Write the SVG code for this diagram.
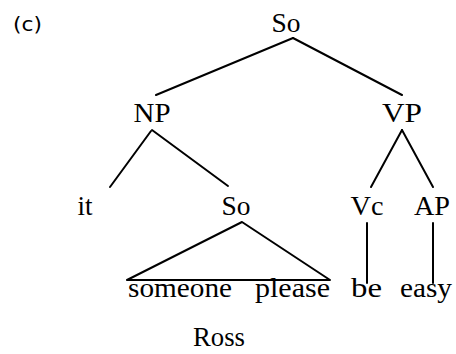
<svg xmlns="http://www.w3.org/2000/svg" width="456" height="354" viewBox="0 0 456 354">
<style>
  .t { font-family: "Liberation Serif", "Times New Roman", serif; font-size: 27px; fill: #000; }
  .m { text-anchor: middle; }
  .lbl { font-family: "DejaVu Sans", "Liberation Sans", sans-serif; font-size: 20px; fill: #000; }
  .e { stroke: #000; stroke-width: 2; fill: none; stroke-linecap: round; stroke-linejoin: round; }
</style>
<rect width="456" height="354" fill="#fff"/>
<text class="lbl" x="13" y="31" textLength="29" lengthAdjust="spacingAndGlyphs">(c)</text>
<g id="connectors">
  <line class="e" x1="293" y1="38" x2="156" y2="95"/>
  <line class="e" x1="293" y1="38" x2="402" y2="95"/>
  <line class="e" x1="151" y1="131" x2="110" y2="187"/>
  <line class="e" x1="152" y1="130" x2="228" y2="186"/>
  <line class="e" x1="402" y1="130" x2="371" y2="187"/>
  <line class="e" x1="402" y1="130" x2="433" y2="187"/>
  <line class="e" x1="367" y1="223" x2="367" y2="283"/>
  <line class="e" x1="433" y1="223" x2="433" y2="283"/>
</g>
<g id="node-So-root"><text class="t m" x="286" y="32" textLength="29" lengthAdjust="spacingAndGlyphs">So</text></g>
<g id="node-NP"><text class="t m" x="152" y="122" textLength="37" lengthAdjust="spacingAndGlyphs">NP</text></g>
<g id="node-VP"><text class="t m" x="402" y="122" textLength="40" lengthAdjust="spacingAndGlyphs">VP</text></g>
<g id="node-it"><text class="t m" x="85" y="215">it</text></g>
<g id="node-So-emb">
  <text class="t m" x="236" y="215" textLength="29" lengthAdjust="spacingAndGlyphs">So</text>
  <polygon class="e" points="242,222 127,280 330,280"/>
</g>
<g id="node-Vc"><text class="t m" x="367" y="215" textLength="33" lengthAdjust="spacingAndGlyphs">Vc</text></g>
<g id="node-AP"><text class="t m" x="432" y="215" textLength="36" lengthAdjust="spacingAndGlyphs">AP</text></g>
<g id="node-someone"><text class="t" x="128" y="297" textLength="104" lengthAdjust="spacingAndGlyphs">someone</text></g>
<g id="node-please"><text class="t" x="255" y="297" textLength="75" lengthAdjust="spacingAndGlyphs">please</text></g>
<g id="node-be"><text class="t" x="351" y="297" textLength="31" lengthAdjust="spacingAndGlyphs">be</text></g>
<g id="node-easy"><text class="t" x="400" y="297" textLength="52" lengthAdjust="spacingAndGlyphs">easy</text></g>
<g id="node-Ross"><text class="t" x="193" y="346" textLength="52" lengthAdjust="spacingAndGlyphs">Ross</text></g>
</svg>
